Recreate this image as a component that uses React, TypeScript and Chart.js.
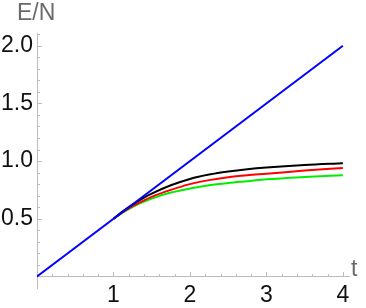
import React, { useEffect, useRef } from "react";
import { Chart, registerables } from "chart.js";
Chart.register(...registerables);

// data
const blueT = [0, 4];
const blueE = [0, 2];
const curveT = [1, 1.1, 1.2, 1.3, 1.4, 1.5, 1.75, 2, 2.25, 2.5, 2.75, 3, 3.5, 4];
const blackE = [0.5, 0.553, 0.602, 0.645, 0.684, 0.718, 0.79, 0.845, 0.883, 0.91, 0.93, 0.945, 0.967, 0.982];
const redE = [0.5, 0.548, 0.59, 0.627, 0.66, 0.69, 0.75, 0.8, 0.835, 0.86, 0.877, 0.89, 0.918, 0.94];
const greenE = [0.5, 0.545, 0.584, 0.618, 0.648, 0.675, 0.727, 0.762, 0.79, 0.81, 0.826, 0.842, 0.862, 0.877];

// ticks
const xTicks = [1, 2, 3, 4];
const yTicks = [0.5, 1.0, 1.5, 2.0];
const xMinor = [0.2, 0.4, 0.6, 0.8, 1.2, 1.4, 1.6, 1.8, 2.2, 2.4, 2.6, 2.8, 3.2, 3.4, 3.6, 3.8];
const yMinor = [0.1, 0.2, 0.3, 0.4, 0.6, 0.7, 0.8, 0.9, 1.1, 1.2, 1.3, 1.4, 1.6, 1.7, 1.8, 1.9, 2.1];
const xLabel = "t";
const yLabel = "E/N";

const FONT = '"Liberation Sans", Arial, sans-serif';
const AXIS_COLOR = "#bcbcbc";

const pts = (xs: number[], ys: number[]) => xs.map((x, i) => ({ x, y: ys[i] }));

const decor = {
  id: "decor",
  beforeDatasetsDraw(chart: any) {
    const { ctx, scales } = chart;
    const xs = scales.x;
    const ys = scales.y;
    const y0 = ys.getPixelForValue(0);
    const x0 = xs.getPixelForValue(0);
    ctx.save();
    ctx.strokeStyle = AXIS_COLOR;
    ctx.lineWidth = 1;
    ctx.beginPath();
    const drawX = (v: number, len: number) => {
      const px = Math.round(xs.getPixelForValue(v)) + 0.5;
      ctx.moveTo(px, Math.round(y0) + 0.5);
      ctx.lineTo(px, Math.round(y0) + 0.5 - len);
    };
    const drawY = (v: number, len: number) => {
      const py = Math.round(ys.getPixelForValue(v)) + 0.5;
      ctx.moveTo(Math.round(x0) + 0.5, py);
      ctx.lineTo(Math.round(x0) + 0.5 + len, py);
    };
    xTicks.forEach((v) => drawX(v, 4.5));
    xMinor.forEach((v) => drawX(v, 2.5));
    yTicks.forEach((v) => drawY(v, 4.5));
    yMinor.forEach((v) => drawY(v, 2.5));
    ctx.stroke();
    ctx.restore();
  },
  afterDraw(chart: any) {
    const { ctx, chartArea } = chart;
    ctx.save();
    ctx.fillStyle = "#6a6a6a";
    ctx.font = `23px ${FONT}`;
    ctx.textBaseline = "middle";
    ctx.textAlign = "left";
    ctx.fillText(yLabel, chartArea.left - 20, 14);
    ctx.fillText(xLabel, chartArea.right + 2, 270);
    ctx.restore();
  },
};

export default function App() {
  const ref = useRef<HTMLCanvasElement | null>(null);
  useEffect(() => {
    if (!ref.current) return;
    const line = (data: any[], color: string, mono: boolean) => ({
      data,
      borderColor: color,
      backgroundColor: color,
      borderWidth: 2,
      pointRadius: 0,
      fill: false,
      cubicInterpolationMode: mono ? "monotone" : "default",
      tension: 0,
    });
    const chart = new Chart(ref.current, {
      type: "line",
      data: {
        datasets: [
          line(pts(blueT, blueE), "#0000ff", false),
          line(pts(curveT, blackE), "#000000", true),
          line(pts(curveT, redE), "#ff0000", true),
          line(pts(curveT, greenE), "#00ee00", true),
        ] as any,
      },
      options: {
        animation: false,
        responsive: false,
        devicePixelRatio: 1,
        layout: { padding: { top: 33, right: 17, bottom: 20, left: 0 } },
        plugins: { legend: { display: false }, tooltip: { enabled: false } },
        scales: {
          x: {
            type: "linear",
            min: 0,
            max: 4.08,
            position: { y: 0 } as any,
            afterBuildTicks: (s: any) => {
              s.ticks = xTicks.map((v) => ({ value: v }));
            },
            grid: { drawOnChartArea: false, drawTicks: false },
            border: { display: true, color: AXIS_COLOR, width: 1 },
            ticks: {
              color: "#111",
              font: { family: FONT, size: 23 },
              padding: 5,
              maxRotation: 0,
              autoSkip: false,
              callback: (v: any) => String(v),
            },
          },
          y: {
            type: "linear",
            min: -0.1,
            max: 2.11,
            position: "left",
            afterFit: (s: any) => {
              s.width = 37;
            },
            afterBuildTicks: (s: any) => {
              s.ticks = yTicks.map((v) => ({ value: v }));
            },
            grid: { drawOnChartArea: false, drawTicks: false },
            border: { display: true, color: AXIS_COLOR, width: 1 },
            ticks: {
              color: "#111",
              font: { family: FONT, size: 23 },
              padding: 4,
              autoSkip: false,
              callback: (v: any) => Number(v).toFixed(1),
            },
          },
        },
      },
      plugins: [decor],
    });
    return () => chart.destroy();
  }, []);
  return (
    <div style={{ position: "fixed", left: 0, top: 0, width: 366, height: 308, background: "#fff" }}>
      <canvas ref={ref} width={366} height={308} style={{ width: 366, height: 308, display: "block" }} />
    </div>
  );
}
